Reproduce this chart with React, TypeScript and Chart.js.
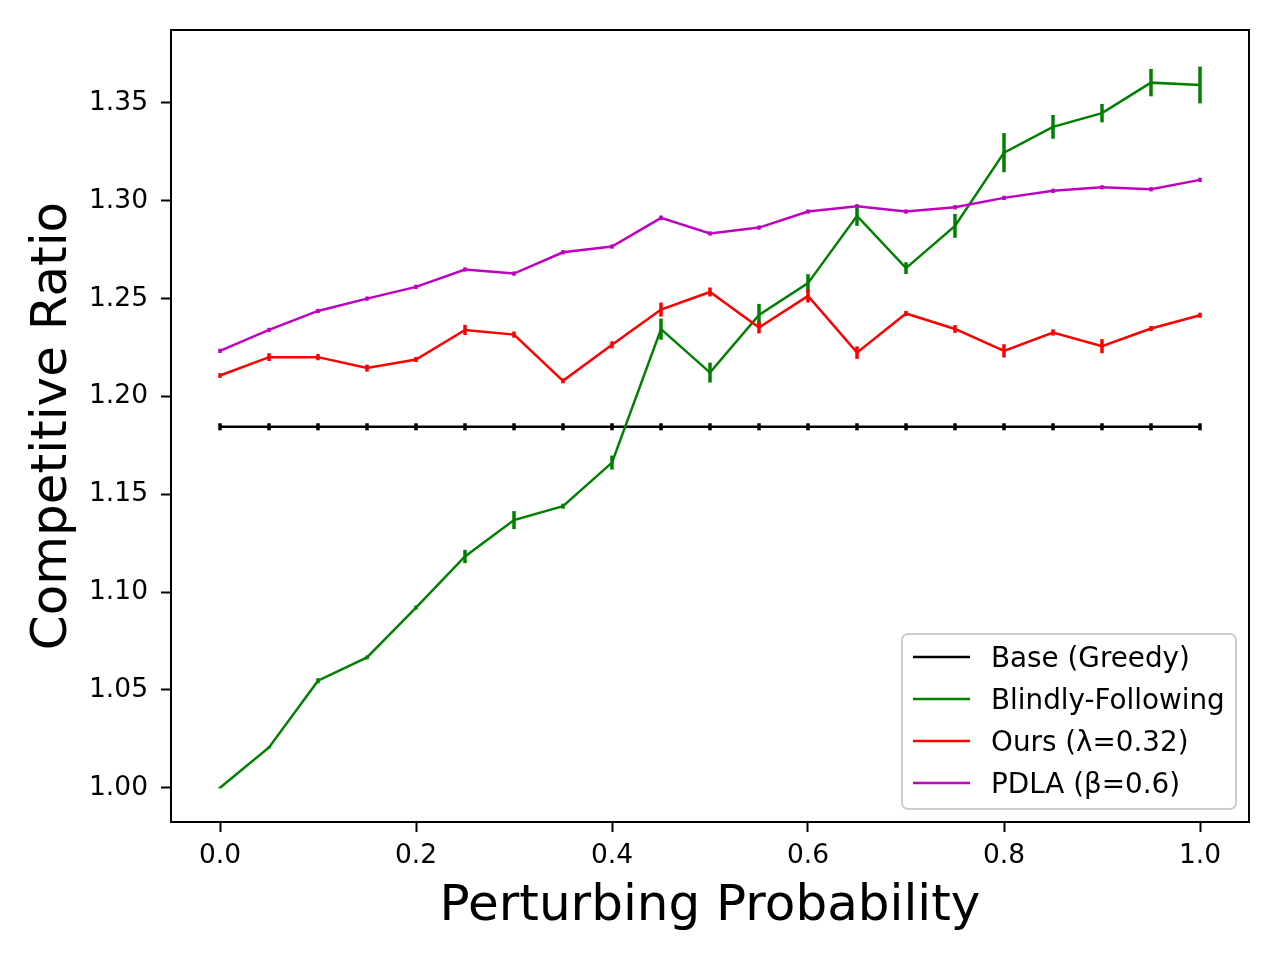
import React, { useEffect, useRef } from 'react';
import { Chart, registerables } from 'chart.js';

Chart.register(...registerables);

// perturbing probability on the x axis
const probs = [0, 0.05, 0.1, 0.15, 0.2, 0.25, 0.3, 0.35, 0.4, 0.45, 0.5, 0.55, 0.6, 0.65, 0.7, 0.75, 0.8, 0.85, 0.9, 0.95, 1.0];

const baseVals = [1.1845, 1.1845, 1.1845, 1.1845, 1.1845, 1.1845, 1.1845, 1.1845, 1.1845, 1.1845, 1.1845, 1.1845, 1.1845, 1.1845, 1.1845, 1.1845, 1.1845, 1.1845, 1.1845, 1.1845, 1.1845];
const baseErr = [0.0018, 0.0018, 0.0018, 0.0018, 0.0018, 0.0018, 0.0018, 0.0018, 0.0018, 0.0018, 0.0018, 0.0018, 0.0018, 0.0018, 0.0018, 0.0018, 0.0018, 0.0018, 0.0018, 0.0018, 0.0018];

const blindVals = [1.0, 1.0206, 1.0547, 1.0666, 1.0921, 1.1182, 1.1368, 1.1439, 1.1662, 1.2344, 1.2122, 1.2417, 1.2579, 1.2923, 1.2656, 1.2872, 1.3246, 1.3378, 1.3448, 1.3604, 1.3592];
const blindErr = [0.0003, 0.0005, 0.0013, 0.001, 0.001, 0.0034, 0.0046, 0.0013, 0.0036, 0.0054, 0.0051, 0.0056, 0.0046, 0.0051, 0.003, 0.0061, 0.01, 0.0061, 0.0047, 0.007, 0.0094];

const oursVals = [1.2107, 1.2201, 1.2201, 1.2145, 1.2189, 1.234, 1.2316, 1.208, 1.2264, 1.2444, 1.2534, 1.2352, 1.2514, 1.2224, 1.2424, 1.2345, 1.2233, 1.2327, 1.2257, 1.2347, 1.2415];
const oursErr = [0.0012, 0.002, 0.0016, 0.0018, 0.0013, 0.0026, 0.0016, 0.0013, 0.0018, 0.0036, 0.0023, 0.003, 0.0034, 0.0032, 0.0013, 0.002, 0.0034, 0.0016, 0.0036, 0.0013, 0.0013];

const pdlaVals = [1.2233, 1.234, 1.2437, 1.25, 1.256, 1.2649, 1.2628, 1.2737, 1.2766, 1.2913, 1.2833, 1.2863, 1.2945, 1.2972, 1.2945, 1.2967, 1.3015, 1.3051, 1.3069, 1.3059, 1.3107];
const pdlaErr = [0.0011, 0.0011, 0.0011, 0.0011, 0.0011, 0.0011, 0.0011, 0.0011, 0.0011, 0.0012, 0.0011, 0.0011, 0.0011, 0.0011, 0.0011, 0.0011, 0.0011, 0.0011, 0.0011, 0.0011, 0.0011];

const seriesLabels = ['Base (Greedy)', 'Blindly-Following', 'Ours (λ=0.32)', 'PDLA (β=0.6)'];
const seriesColors = ['#000000', '#008000', '#ff0000', '#bf00bf'];

const xTicks = [0, 0.2, 0.4, 0.6, 0.8, 1.0];
const yTicks = [1.0, 1.05, 1.1, 1.15, 1.2, 1.25, 1.3, 1.35];

const FONT = "'DejaVu Sans', sans-serif";

// vertical error bars, drawn right after each dataset so the z-order follows it
const errorBars = {
  id: 'errorBars',
  afterDatasetDraw(chart: any, args: any) {
    const ds = chart.data.datasets[args.index];
    const errs: number[] = ds.errors;
    if (!errs) return;
    const { ctx, scales } = chart;
    ctx.save();
    ctx.strokeStyle = ds.borderColor;
    ctx.lineWidth = 3.5;
    ds.data.forEach((p: any, i: number) => {
      const x = scales.x.getPixelForValue(p.x);
      ctx.beginPath();
      ctx.moveTo(x, scales.y.getPixelForValue(p.y - errs[i]));
      ctx.lineTo(x, scales.y.getPixelForValue(p.y + errs[i]));
      ctx.stroke();
    });
    ctx.restore();
  },
};

// axes box and legend in the lower right corner
const frameAndLegend = {
  id: 'frameAndLegend',
  afterDraw(chart: any) {
    const { ctx, chartArea: a } = chart;
    ctx.save();
    ctx.strokeStyle = '#000';
    ctx.lineWidth = 2;
    ctx.strokeRect(a.left, a.top, a.right - a.left, a.bottom - a.top);

    const w = 334;
    const h = 175;
    const bx = a.right - 13 - w;
    const by = a.bottom - 13 - h;
    ctx.beginPath();
    ctx.roundRect(bx, by, w, h, 6);
    ctx.fillStyle = 'rgba(255,255,255,0.8)';
    ctx.fill();
    ctx.strokeStyle = '#cccccc';
    ctx.lineWidth = 2;
    ctx.stroke();

    ctx.font = `27.8px ${FONT}`;
    ctx.textBaseline = 'alphabetic';
    ctx.textAlign = 'left';
    seriesLabels.forEach((label, i) => {
      const rowY = by + 23 + i * 42;
      ctx.strokeStyle = seriesColors[i];
      ctx.lineWidth = 2.5;
      ctx.beginPath();
      ctx.moveTo(bx + 11, rowY);
      ctx.lineTo(bx + 68, rowY);
      ctx.stroke();
      ctx.fillStyle = '#000';
      ctx.fillText(label, bx + 89, rowY + 10);
    });
    ctx.restore();
  },
};

const App: React.FC = () => {
  const chartRef = useRef<HTMLCanvasElement>(null);

  useEffect(() => {
    if (!chartRef.current) return;
    const valueSets = [baseVals, blindVals, oursVals, pdlaVals];
    const errSets = [baseErr, blindErr, oursErr, pdlaErr];

    const chart = new Chart(chartRef.current, {
      type: 'line',
      data: {
        datasets: seriesLabels.map((label, i) => ({
          label,
          data: probs.map((x, j) => ({ x, y: valueSets[i][j] })),
          errors: errSets[i],
          borderColor: seriesColors[i],
          backgroundColor: seriesColors[i],
          borderWidth: 2.5,
          pointRadius: 0,
          tension: 0,
          fill: false,
          order: seriesLabels.length - i,
        })) as any,
      },
      options: {
        animation: false,
        responsive: true,
        maintainAspectRatio: false,
        layout: { padding: { top: 30, right: 31, left: 0, bottom: 0 } },
        plugins: {
          legend: { display: false },
          tooltip: { enabled: false },
        },
        scales: {
          x: {
            type: 'linear',
            min: -0.05,
            max: 1.05,
            afterBuildTicks: (scale: any) => {
              scale.ticks = xTicks.map((value) => ({ value }));
            },
            afterFit: (scale: any) => {
              scale.height = 138;
            },
            grid: { drawOnChartArea: false, drawTicks: true, tickLength: 10, tickWidth: 2, tickColor: '#000' },
            border: { display: false },
            ticks: {
              color: '#000',
              font: { family: FONT, size: 26.5 },
              padding: 8,
              maxRotation: 0,
              autoSkip: false,
              callback: (v: any) => Number(v).toFixed(1),
            },
            title: {
              display: true,
              text: 'Perturbing Probability',
              color: '#000',
              font: { family: FONT, size: 50 },
              padding: { top: 0, bottom: 23 },
            },
          },
          y: {
            type: 'linear',
            min: 0.9825,
            max: 1.3873,
            afterBuildTicks: (scale: any) => {
              scale.ticks = yTicks.map((value) => ({ value }));
            },
            afterFit: (scale: any) => {
              scale.width = 171;
            },
            grid: { drawOnChartArea: false, drawTicks: true, tickLength: 10, tickWidth: 2, tickColor: '#000' },
            border: { display: false },
            ticks: {
              color: '#000',
              font: { family: FONT, size: 26.5 },
              padding: 13,
              autoSkip: false,
              callback: (v: any) => Number(v).toFixed(2),
            },
            title: {
              display: true,
              text: 'Competitive Ratio',
              color: '#000',
              font: { family: FONT, size: 50 },
              padding: { top: 23, bottom: 0 },
            },
          },
        },
      },
      plugins: [errorBars, frameAndLegend],
    });

    return () => {
      chart.destroy();
    };
  }, []);

  return (
    <div style={{ position: 'absolute', left: 0, top: 0, width: 1280, height: 960, background: '#fff' }}>
      <canvas ref={chartRef} />
    </div>
  );
};

export default App;
